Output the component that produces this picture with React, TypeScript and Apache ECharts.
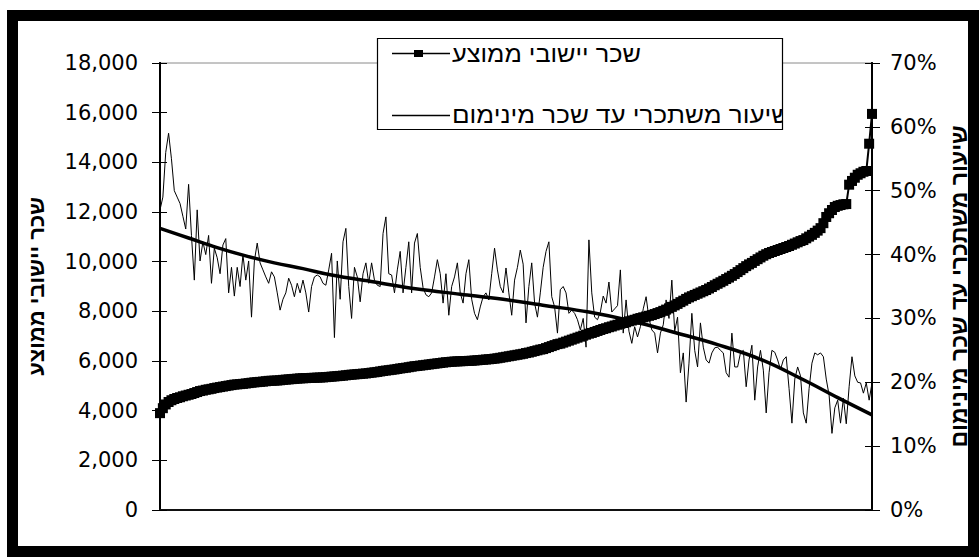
import React, { useEffect, useRef } from "react";
import * as echarts from "echarts";

const WAGE_NAME = "שכר יישובי ממוצע";
const RATE_NAME = "שיעור משתכרי עד שכר מינימום";
const LEFT_TITLE = "שכר יישובי ממוצע";
const RIGHT_TITLE = "שיעור משתכרי עד שכר מינימום";

const LEFT_MIN = 0;
const LEFT_MAX = 18000;
const LEFT_STEP = 2000;
const RIGHT_MIN = 0;
const RIGHT_MAX = 70;
const RIGHT_STEP = 10;

// average municipal wage (NIS), localities sorted ascending
const avgWage = [
  3900, 4100, 4250, 4350, 4420, 4470, 4510, 4540, 4580, 4610,
  4640, 4670, 4710, 4750, 4790, 4810, 4840, 4860, 4880, 4910,
  4930, 4950, 4970, 4990, 5010, 5030, 5050, 5060, 5070, 5080,
  5095, 5110, 5125, 5140, 5150, 5160, 5170, 5185, 5200, 5205,
  5210, 5215, 5225, 5240, 5250, 5260, 5270, 5280, 5290, 5300,
  5305, 5310, 5315, 5320, 5325, 5330, 5335, 5340, 5350, 5360,
  5370, 5380, 5390, 5400, 5410, 5425, 5440, 5450, 5460, 5470,
  5480, 5490, 5500, 5515, 5530, 5545, 5560, 5580, 5600, 5615,
  5630, 5645, 5660, 5680, 5700, 5715, 5730, 5750, 5770, 5790,
  5800, 5815, 5830, 5845, 5860, 5875, 5890, 5905, 5920, 5935,
  5950, 5960, 5970, 5980, 5985, 5990, 5995, 6000, 6005, 6010,
  6020, 6030, 6040, 6050, 6060, 6070, 6080, 6095, 6110, 6130,
  6150, 6170, 6190, 6210, 6230, 6250, 6270, 6290, 6320, 6340,
  6370, 6400, 6430, 6460, 6480, 6520, 6560, 6600, 6640, 6680,
  6700, 6740, 6780, 6820, 6860, 6900, 6940, 6980, 7020, 7060,
  7100, 7130, 7170, 7210, 7250, 7290, 7320, 7360, 7390, 7430,
  7460, 7500, 7530, 7560, 7600, 7630, 7660, 7700, 7730, 7760,
  7790, 7820, 7850, 7890, 7930, 7970, 8020, 8070, 8120, 8180,
  8240, 8300, 8370, 8430, 8500, 8560, 8610, 8660, 8710, 8760,
  8810, 8860, 8920, 8980, 9050, 9110, 9170, 9230, 9300, 9360,
  9430, 9500, 9580, 9660, 9740, 9820, 9890, 9950, 10030, 10100,
  10170, 10240, 10300, 10350, 10390, 10430, 10470, 10510, 10550, 10590,
  10630, 10680, 10730, 10780, 10830, 10870, 10940, 11010, 11080, 11160,
  11250, 11350, 11550, 11800, 11950, 12080, 12200, 12250, 12280, 12310,
  12320, 13100, 13250, 13380, 13500, 13560, 13620, 13650, 14750, 15950,
];

// share of employees earning up to minimum wage (%)
const minWageRate = [
  47, 49, 56, 59, 55, 50, 49, 48, 46, 44,
  51, 43, 36, 47, 39, 42, 40, 43, 35.5, 41,
  39.5, 37, 41.5, 42.5, 34, 38, 33.5, 38, 35, 40,
  36, 39, 30.2, 39, 41.8, 38.7, 37.6, 36.5, 35.5, 37.3,
  36.5, 34, 31.3, 33, 34, 36.3, 35.2, 33.4, 35.5, 34,
  36, 34, 31, 35, 36.5, 36.8, 36.5, 35.5, 35.2, 37.6,
  40.2, 27, 39, 33, 42, 44.1, 35, 30, 38, 36.5,
  32.6, 37, 38.7, 35.5, 38.7, 36, 35.2, 35, 43.3, 45.9,
  37, 36.8, 34, 37.6, 40.5, 34, 38, 42, 34, 41.8,
  43.3, 38, 34.8, 33.7, 33.4, 34, 36.5, 39.2, 37, 32.4,
  37, 30.5, 35, 36.5, 38.7, 34, 32.4, 37, 39.2, 33,
  30.8, 29.8, 31.8, 33.4, 34, 32.9, 37, 41, 37.6, 35,
  34, 37.9, 34, 30.5, 36, 38, 40.7, 38.5, 29.3, 35,
  38.7, 32.4, 30.2, 34, 38, 40.5, 42, 33.4, 31.8, 27.7,
  34.5, 35, 34, 30.8, 31.3, 30.8, 29.8, 28.2, 30, 25.5,
  42.3, 34, 30.2, 29.8, 31, 33.5, 32.4, 35.7, 31, 31.5,
  32, 37.6, 27.7, 32.9, 28, 26.1, 28.7, 27.1, 28.7, 31.5,
  33.4, 30, 28.2, 27.7, 24.6, 27.7, 29, 32.9, 30, 36,
  28, 30.2, 21.5, 24.6, 16.9, 23, 30.8, 25, 22.4, 29.3,
  25.5, 23.5, 23, 24.6, 25.4, 25.5, 25, 24.6, 21.5, 20.8,
  27.7, 22.4, 22.4, 24.6, 25, 19.3, 23.5, 25.8, 17.2, 22.4,
  25, 21.9, 15.2, 21.5, 25, 24.7, 23.5, 22, 23.5, 24,
  19, 13.6, 20.5, 22.4, 21, 15.2, 13.6, 19, 23, 24.6,
  24.3, 24.6, 24, 20.5, 18, 12, 16, 17.2, 13.6, 17.5,
  13.5, 19.3, 24, 21, 20, 19.9, 18.3, 19.9, 17.2, 19.9,
];

// trend line of the rate, read at a few category positions [index, %]
const trendKnots = [
  [0, 44.1], [10, 42.6], [20, 41.1], [30, 39.8], [40, 38.7], [50, 37.8],
  [60, 36.8], [75, 35.7], [90, 34.6], [105, 33.8], [120, 33.0], [135, 32.0],
  [150, 31.0], [165, 29.6], [180, 27.8], [195, 25.9], [210, 23.6], [225, 20.4],
  [237, 17.6], [249, 14.9],
];

const categories = avgWage.map((_, i) => String(i + 1));

const NUM_FONT = "DejaVu Sans";
const HEB_FONT = "Liberation Sans";

export default function App() {
  const ref = useRef<HTMLDivElement>(null);

  useEffect(() => {
    if (!ref.current) return;
    const chart = echarts.init(ref.current, undefined, { renderer: "svg" });

    const leftBase = {
      type: "value",
      position: "left",
      min: LEFT_MIN,
      max: LEFT_MAX,
      interval: LEFT_STEP,
      splitLine: { show: false },
      axisLine: { show: true, lineStyle: { color: "#000", width: 2 } },
    };
    const rightBase = {
      type: "value",
      position: "right",
      min: RIGHT_MIN,
      max: RIGHT_MAX,
      interval: RIGHT_STEP,
      splitLine: { show: false },
      axisLine: { show: true, lineStyle: { color: "#000", width: 2 } },
    };

    const legendText = (text: string, y: number, scaleX: number) => ({
      type: "text",
      z: 52,
      x: 452,
      y,
      scaleX,
      style: {
        text,
        fontFamily: HEB_FONT,
        fontSize: 23,
        fill: "#000",
        align: "left",
        verticalAlign: "middle",
        textAlign: "left",
        textVerticalAlign: "middle",
      },
    });

    const option: any = {
      animation: false,
      backgroundColor: "#fff",
      grid: {
        left: 160,
        right: 108,
        top: 63,
        bottom: 47,
        show: true,
        borderColor: "#8a8a8a",
        borderWidth: 1,
        backgroundColor: "transparent",
      },
      xAxis: {
        type: "category",
        data: categories,
        boundaryGap: false,
        axisLine: { lineStyle: { color: "#111", width: 2 } },
        axisTick: { show: false },
        axisLabel: { show: false },
        splitLine: { show: false },
      },
      yAxis: [
        {
          ...leftBase,
          name: LEFT_TITLE,
          nameLocation: "middle",
          nameGap: 113,
          nameRotate: 90,
          nameTextStyle: { fontFamily: HEB_FONT, fontWeight: "bold", fontSize: 22, color: "#000" },
          axisTick: { show: true, length: 8, lineStyle: { color: "#000", width: 1 } },
          axisLabel: {
            margin: 22,
            fontFamily: NUM_FONT,
            fontSize: 21,
            color: "#000",
            formatter: (v: number) => v.toLocaleString("en-US"),
          },
        },
        {
          ...rightBase,
          name: RIGHT_TITLE,
          nameLocation: "middle",
          nameGap: 75,
          nameRotate: 90,
          nameTextStyle: { fontFamily: HEB_FONT, fontWeight: "bold", fontSize: 23, color: "#000" },
          axisTick: { show: true, length: 8, lineStyle: { color: "#000", width: 1 } },
          axisLabel: {
            margin: 18,
            fontFamily: NUM_FONT,
            fontSize: 21,
            color: "#000",
            formatter: "{value}%",
          },
        },
        {
          ...leftBase,
          axisTick: { show: true, inside: true, length: 7, lineStyle: { color: "#000", width: 1 } },
          axisLabel: { show: false },
        },
        {
          ...rightBase,
          axisTick: { show: true, inside: true, length: 7, lineStyle: { color: "#000", width: 1 } },
          axisLabel: { show: false },
        },
      ],
      series: [
        {
          name: RATE_NAME,
          type: "line",
          yAxisIndex: 1,
          data: minWageRate,
          symbol: "none",
          lineStyle: { color: "#000", width: 1 },
          z: 2,
        },
        {
          name: "trend",
          type: "line",
          yAxisIndex: 1,
          data: trendKnots,
          smooth: 0.4,
          symbol: "none",
          lineStyle: { color: "#000", width: 3.5 },
          z: 3,
        },
        {
          name: WAGE_NAME,
          type: "line",
          yAxisIndex: 0,
          data: avgWage,
          symbol: "rect",
          symbolSize: 10,
          showSymbol: true,
          showAllSymbol: true,
          itemStyle: { color: "#000", borderWidth: 0 },
          lineStyle: { color: "#000", width: 2 },
          z: 4,
        },
      ],
      graphic: [
        {
          type: "rect",
          z: 50,
          shape: { x: 377.5, y: 38.5, width: 405, height: 91 },
          style: { fill: "#fff", stroke: "none" },
        },
        {
          type: "line",
          z: 51,
          shape: { x1: 392, y1: 53.5, x2: 450, y2: 53.5 },
          style: { stroke: "#000", lineWidth: 1.5 },
        },
        {
          type: "rect",
          z: 52,
          shape: { x: 414, y: 50, width: 9, height: 7 },
          style: { fill: "#000" },
        },
        legendText(WAGE_NAME, 54, 1.1),
        {
          type: "line",
          z: 51,
          shape: { x1: 392, y1: 115.5, x2: 450, y2: 115.5 },
          style: { stroke: "#000", lineWidth: 1.5 },
        },
        legendText(RATE_NAME, 115, 1.13),
        {
          type: "rect",
          z: 55,
          shape: { x: 783, y: 100, width: 50, height: 28 },
          style: { fill: "#fff", stroke: "none" },
        },
        {
          type: "rect",
          z: 60,
          shape: { x: 377.5, y: 38.5, width: 405, height: 91 },
          style: { fill: "none", stroke: "#000", lineWidth: 1.2 },
        },
        {
          type: "rect",
          z: 100,
          shape: { x: 12.5, y: 15.5, width: 961, height: 536 },
          style: { fill: "none", stroke: "#000", lineWidth: 11 },
        },
      ],
    };

    chart.setOption(option);
    return () => chart.dispose();
  }, []);

  return (
    <div
      ref={ref}
      style={{ position: "fixed", left: 0, top: 0, width: 980, height: 557, background: "#fff" }}
    />
  );
}
